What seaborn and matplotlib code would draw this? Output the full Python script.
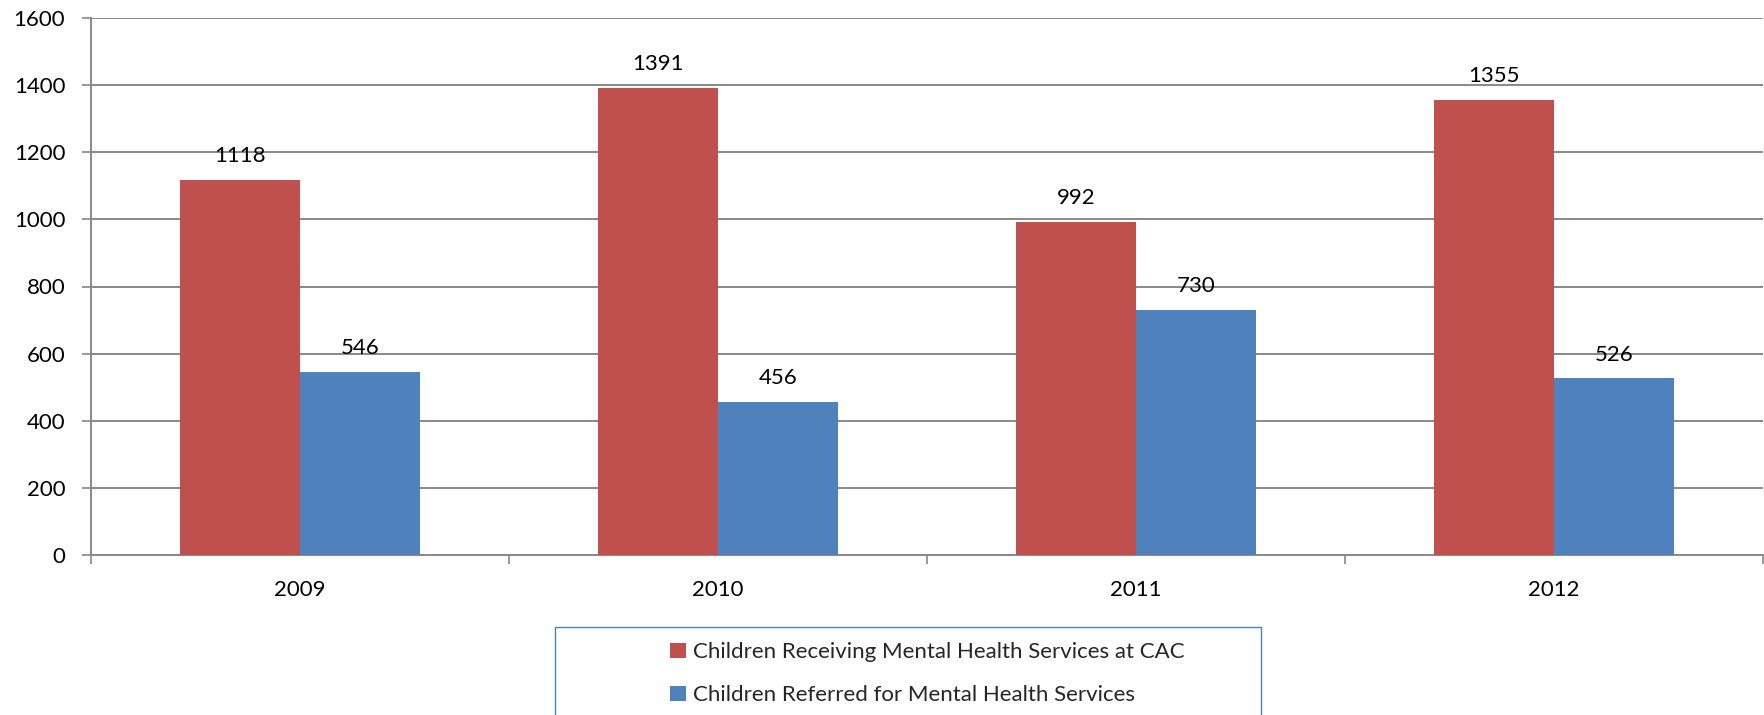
import pandas as pd
import matplotlib.pyplot as plt
import seaborn as sns
from matplotlib.patches import Rectangle

# values
years = ['2009', '2010', '2011', '2012']
receiving = [1118, 1391, 992, 1355]
referred = [546, 456, 730, 526]
series_names = ['Children Receiving Mental Health Services at CAC',
                'Children Referred for Mental Health Services']
y_ticks = [0, 200, 400, 600, 800, 1000, 1200, 1400, 1600]

df = pd.DataFrame({
    'Year': years + years,
    'Children': receiving + referred,
    'Series': [series_names[0]] * len(years) + [series_names[1]] * len(years),
})

sns.set_theme(style='white')
plt.rcParams['font.family'] = ['Lato', 'DejaVu Sans']

W, H = 1764, 715
fs = 16
fig = plt.figure(figsize=(W / 100, H / 100), dpi=100)
ax = fig.add_axes([91 / W, 1 - 555 / H, (1763 - 91) / W, (555 - 18) / H])

sns.barplot(data=df, x='Year', y='Children', hue='Series', hue_order=series_names,
            palette=['#C0504D', '#4F81BD'], width=0.575, gap=0, saturation=1,
            errorbar=None, linewidth=0, ax=ax, zorder=3)

grid_c = '#888888'
ax.set_ylim(0, 1600)
ax.set_xlim(-0.5, len(years) - 0.5)
ax.set_yticks(y_ticks)
ax.set_yticklabels([str(t) for t in y_ticks])
ax.yaxis.grid(True, color=grid_c, lw=1.4, zorder=0)
ax.set_axisbelow(True)
ax.tick_params(axis='y', direction='out', length=6.5, width=1.2, color=grid_c,
               pad=12, labelsize=fs, labelcolor='black', left=True)

# boundary ticks between categories, labels at centres
ax.set_xticks([i - 0.5 for i in range(len(years) + 1)])
ax.set_xticklabels([''] * (len(years) + 1))
ax.set_xticks(range(len(years)), minor=True)
ax.set_xticklabels(years, minor=True)
ax.tick_params(axis='x', which='major', direction='out', length=6.5, width=1.2,
               color=grid_c, bottom=True)
ax.tick_params(axis='x', which='minor', length=0, pad=18, labelsize=fs,
               labelcolor='black')
ax.set_xlabel('')
ax.set_ylabel('')

for side in ['top', 'right']:
    ax.spines[side].set_visible(False)
for side in ['left', 'bottom']:
    ax.spines[side].set_color(grid_c)
    ax.spines[side].set_linewidth(1.4)

for container in ax.containers:
    ax.bar_label(container, padding=10, fontsize=fs, color='black')

handles, labels = ax.get_legend_handles_labels()
ax.get_legend().remove()
fig.legend(handles, labels, loc='upper left', bbox_to_anchor=(659 / W, 1 - 631 / H),
           frameon=False, borderpad=0, labelspacing=1.05, handlelength=0.7,
           handleheight=0.7, handletextpad=0.35, fontsize=fs)
fig.patches.append(Rectangle((555 / W, -0.1), (1261 - 555) / W, 0.1 + 1 - 627 / H,
                             transform=fig.transFigure, fill=False,
                             edgecolor='#4F81BD', lw=1))

fig.savefig('out.png', dpi=100)
